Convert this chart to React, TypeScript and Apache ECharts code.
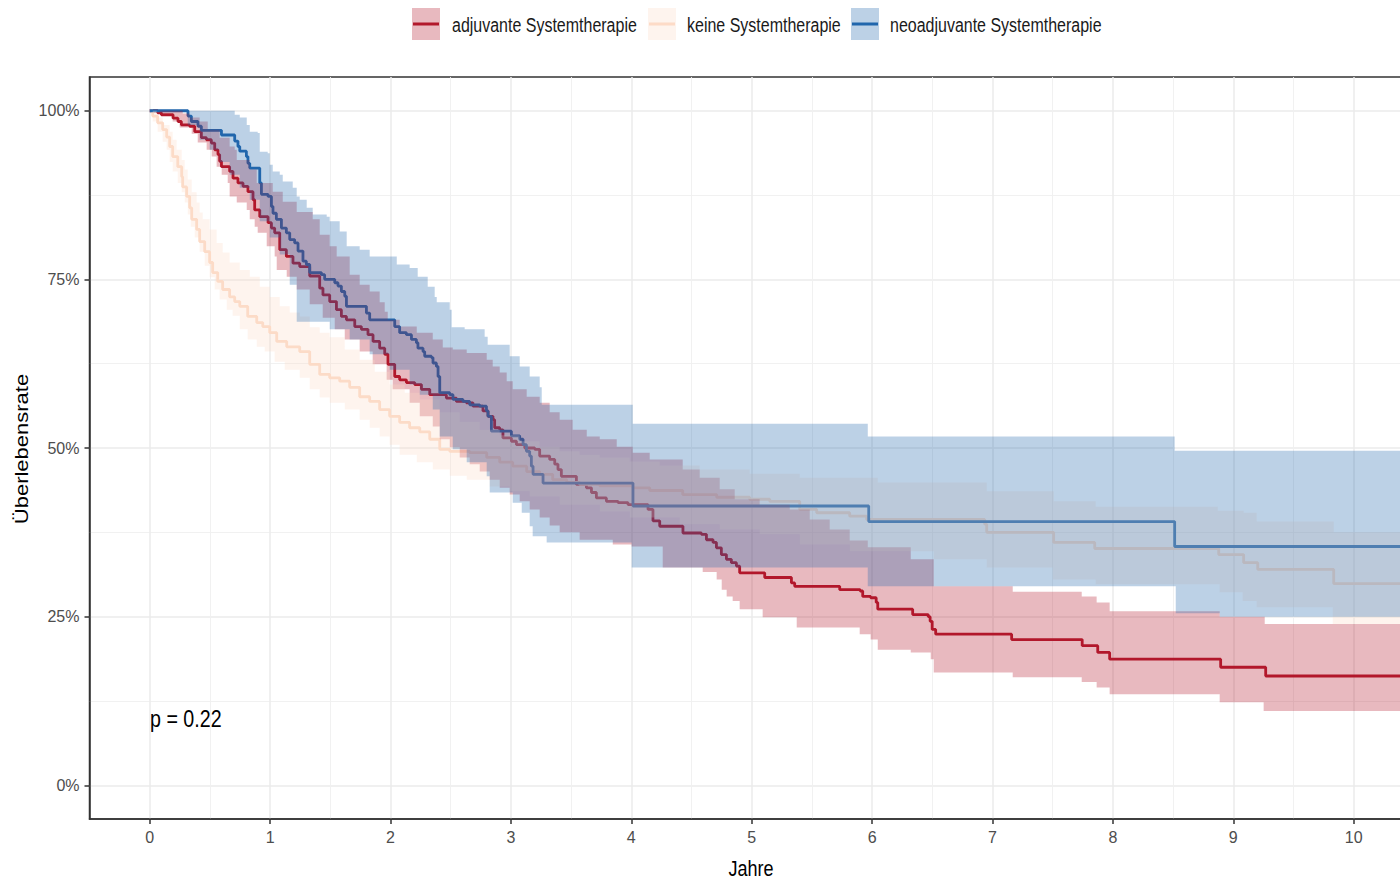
import React, { useEffect, useRef } from "react";
import * as echarts from "echarts";

type Pt = [number, number];

const X_MIN = -0.5;
const X_END = 10.5;
const Y_MIN = -0.05;
const Y_MAX = 1.05;

const xTicks = [0, 1, 2, 3, 4, 5, 6, 7, 8, 9, 10];
const yTicks = [0, 0.25, 0.5, 0.75, 1];
const legendLabels = [
  "adjuvante Systemtherapie",
  "keine Systemtherapie",
  "neoadjuvante Systemtherapie",
];
const seriesColors = ["#B2182B", "#FDDBC7", "#2166AC"];
const xTitle = "Jahre";
const yTitle = "Überlebensrate";
const pValueText = "p = 0.22";

// adjuvante Systemtherapie
const adjLine: Pt[] = [
  [0, 1.0], [0.066, 0.997], [0.097, 0.994], [0.194, 0.989], [0.235, 0.984], [0.263, 0.979],
  [0.332, 0.977], [0.374, 0.969], [0.429, 0.96], [0.471, 0.957], [0.512, 0.952], [0.54, 0.942],
  [0.567, 0.935], [0.581, 0.925], [0.596, 0.917], [0.664, 0.91], [0.692, 0.9], [0.733, 0.893],
  [0.775, 0.888], [0.816, 0.88], [0.858, 0.868], [0.872, 0.853], [0.914, 0.843], [0.983, 0.834],
  [1.011, 0.826], [1.038, 0.819], [1.08, 0.794], [1.135, 0.784], [1.19, 0.774], [1.246, 0.769],
  [1.329, 0.755], [1.412, 0.737], [1.439, 0.727], [1.495, 0.717], [1.551, 0.705], [1.592, 0.695],
  [1.634, 0.69], [1.703, 0.68], [1.758, 0.676], [1.813, 0.668], [1.855, 0.658], [1.91, 0.648],
  [1.952, 0.639], [1.979, 0.624], [2.035, 0.606], [2.076, 0.601], [2.132, 0.597], [2.201, 0.594],
  [2.257, 0.587], [2.326, 0.579], [2.464, 0.574], [2.547, 0.569], [2.63, 0.567], [2.685, 0.562],
  [2.768, 0.555], [2.81, 0.547], [2.851, 0.542], [2.865, 0.53], [2.907, 0.527], [2.934, 0.515],
  [3.004, 0.51], [3.046, 0.505], [3.115, 0.5], [3.198, 0.498], [3.239, 0.488], [3.322, 0.483],
  [3.364, 0.476], [3.391, 0.468], [3.419, 0.458], [3.544, 0.446], [3.627, 0.441], [3.669, 0.434],
  [3.71, 0.426], [3.793, 0.421], [3.89, 0.419], [3.973, 0.416], [4.139, 0.409], [4.18, 0.392],
  [4.236, 0.384], [4.429, 0.374], [4.582, 0.372], [4.624, 0.364], [4.679, 0.36], [4.707, 0.352],
  [4.748, 0.342], [4.79, 0.335], [4.831, 0.33], [4.873, 0.325], [4.9, 0.315], [5.108, 0.308],
  [5.33, 0.3], [5.357, 0.295], [5.731, 0.29], [5.901, 0.288], [5.922, 0.28], [5.988, 0.278],
  [6.034, 0.271], [6.047, 0.261], [6.337, 0.253], [6.466, 0.25], [6.482, 0.243], [6.499, 0.231],
  [6.528, 0.224], [7.159, 0.216], [7.745, 0.207], [7.874, 0.197], [7.973, 0.187], [8.895, 0.175],
  [9.269, 0.162],
];
const adjUpper: Pt[] = [
  [0, 1.0], [0.274, 0.996], [0.332, 0.99], [0.415, 0.984], [0.482, 0.972], [0.581, 0.96],
  [0.664, 0.947], [0.706, 0.942], [0.723, 0.927], [0.831, 0.913], [0.889, 0.893], [1.022, 0.88],
  [1.105, 0.865], [1.221, 0.85], [1.354, 0.839], [1.412, 0.816], [1.495, 0.799], [1.553, 0.784],
  [1.661, 0.757], [1.744, 0.742], [1.827, 0.732], [1.91, 0.716], [1.952, 0.702], [1.977, 0.69],
  [2.076, 0.68], [2.218, 0.671], [2.351, 0.661], [2.434, 0.649], [2.517, 0.646], [2.633, 0.641],
  [2.799, 0.631], [2.849, 0.621], [2.907, 0.612], [2.965, 0.599], [3.015, 0.587], [3.131, 0.576],
  [3.239, 0.567], [3.322, 0.553], [3.405, 0.542], [3.513, 0.527], [3.63, 0.517], [3.738, 0.513],
  [3.879, 0.502], [4.012, 0.493], [4.153, 0.483], [4.427, 0.468], [4.568, 0.456], [4.734, 0.439],
  [4.859, 0.424], [5.066, 0.416], [5.316, 0.409], [5.482, 0.394], [5.648, 0.379], [5.814, 0.363],
  [5.964, 0.353], [6.321, 0.335], [6.512, 0.295], [7.168, 0.287], [7.741, 0.28], [7.865, 0.271],
  [7.973, 0.258], [8.887, 0.25], [9.261, 0.239],
];
const adjLower: Pt[] = [
  [0, 1.0], [0.083, 0.996], [0.191, 0.984], [0.249, 0.975], [0.349, 0.966], [0.399, 0.953],
  [0.473, 0.942], [0.515, 0.932], [0.556, 0.917], [0.598, 0.905], [0.648, 0.893], [0.664, 0.873],
  [0.723, 0.864], [0.806, 0.853], [0.831, 0.839], [0.872, 0.828], [0.897, 0.819], [0.972, 0.799],
  [1.038, 0.784], [1.055, 0.764], [1.138, 0.754], [1.221, 0.735], [1.329, 0.713], [1.437, 0.693],
  [1.537, 0.676], [1.62, 0.661], [1.744, 0.643], [1.852, 0.624], [1.968, 0.601], [2.018, 0.587],
  [2.159, 0.567], [2.243, 0.547], [2.351, 0.532], [2.409, 0.513], [2.492, 0.501], [2.575, 0.486],
  [2.658, 0.476], [2.741, 0.465], [2.824, 0.453], [2.907, 0.441], [2.99, 0.431], [3.073, 0.421],
  [3.156, 0.409], [3.239, 0.397], [3.322, 0.385], [3.405, 0.375], [3.571, 0.364], [3.846, 0.357],
  [4.003, 0.354], [4.261, 0.323], [4.593, 0.316], [4.709, 0.305], [4.751, 0.29], [4.792, 0.28],
  [4.842, 0.273], [4.9, 0.261], [5.091, 0.249], [5.374, 0.234], [5.897, 0.224], [5.988, 0.216],
  [6.047, 0.201], [6.321, 0.197], [6.487, 0.187], [6.512, 0.167], [7.168, 0.16], [7.741, 0.153],
  [7.865, 0.145], [7.973, 0.135], [8.887, 0.123], [9.252, 0.11],
];

// keine Systemtherapie
const keineLine: Pt[] = [
  [0, 1.0], [0.025, 0.992], [0.066, 0.982], [0.108, 0.972], [0.141, 0.961], [0.166, 0.947],
  [0.191, 0.932], [0.233, 0.917], [0.266, 0.902], [0.274, 0.887], [0.307, 0.873], [0.332, 0.856],
  [0.349, 0.839], [0.39, 0.824], [0.415, 0.806], [0.457, 0.791], [0.498, 0.775], [0.523, 0.76],
  [0.565, 0.747], [0.606, 0.735], [0.664, 0.724], [0.706, 0.717], [0.748, 0.71], [0.814, 0.695],
  [0.889, 0.686], [0.939, 0.68], [0.997, 0.671], [1.055, 0.658], [1.138, 0.65], [1.246, 0.643],
  [1.329, 0.624], [1.412, 0.609], [1.495, 0.604], [1.578, 0.599], [1.661, 0.59], [1.744, 0.576],
  [1.827, 0.569], [1.91, 0.557], [1.993, 0.547], [2.076, 0.538], [2.159, 0.53], [2.243, 0.524],
  [2.326, 0.513], [2.409, 0.498], [2.492, 0.495], [2.658, 0.493], [2.799, 0.486], [2.907, 0.479],
  [3.015, 0.473], [3.131, 0.465], [3.239, 0.461], [3.347, 0.453], [3.464, 0.449], [3.571, 0.446],
  [3.738, 0.444], [4.012, 0.441], [4.153, 0.437], [4.427, 0.431], [4.709, 0.427], [4.983, 0.424],
  [5.15, 0.421], [5.399, 0.409], [5.54, 0.404], [5.814, 0.399], [5.955, 0.394], [6.935, 0.387],
  [6.952, 0.375], [7.508, 0.36], [7.849, 0.351], [8.879, 0.342], [9.086, 0.33], [9.203, 0.32],
  [9.834, 0.299],
];
const keineUpper: Pt[] = [
  [0, 1.0], [0.058, 0.99], [0.108, 0.979], [0.166, 0.969], [0.191, 0.957], [0.224, 0.942],
  [0.266, 0.927], [0.291, 0.913], [0.316, 0.898], [0.349, 0.879], [0.39, 0.864], [0.415, 0.849],
  [0.44, 0.839], [0.498, 0.824], [0.556, 0.804], [0.606, 0.79], [0.664, 0.775], [0.748, 0.764],
  [0.831, 0.754], [0.914, 0.739], [0.997, 0.724], [1.08, 0.71], [1.163, 0.701], [1.246, 0.695],
  [1.329, 0.679], [1.412, 0.671], [1.495, 0.664], [1.62, 0.646], [1.744, 0.631], [1.869, 0.613],
  [1.993, 0.594], [2.118, 0.582], [2.243, 0.572], [2.409, 0.553], [2.575, 0.539], [2.741, 0.527],
  [2.907, 0.519], [3.073, 0.51], [3.239, 0.502], [3.405, 0.495], [3.571, 0.49], [3.738, 0.486],
  [3.987, 0.48], [4.236, 0.474], [4.568, 0.468], [4.983, 0.462], [5.399, 0.456], [6.047, 0.449],
  [6.952, 0.436], [7.508, 0.421], [7.857, 0.413], [8.871, 0.407], [9.086, 0.404], [9.194, 0.391],
  [9.834, 0.375],
];
const keineLower: Pt[] = [
  [0, 1.0], [0.025, 0.984], [0.066, 0.969], [0.108, 0.954], [0.141, 0.942], [0.166, 0.924],
  [0.191, 0.91], [0.233, 0.893], [0.266, 0.879], [0.291, 0.864], [0.316, 0.846], [0.341, 0.828],
  [0.374, 0.812], [0.415, 0.791], [0.457, 0.77], [0.498, 0.753], [0.54, 0.735], [0.581, 0.72],
  [0.64, 0.705], [0.689, 0.696], [0.748, 0.676], [0.814, 0.661], [0.889, 0.65], [0.955, 0.643],
  [1.038, 0.628], [1.121, 0.616], [1.246, 0.604], [1.329, 0.587], [1.412, 0.575], [1.495, 0.567],
  [1.62, 0.557], [1.744, 0.542], [1.827, 0.53], [1.91, 0.517], [1.993, 0.505], [2.076, 0.49],
  [2.218, 0.479], [2.351, 0.468], [2.492, 0.459], [2.633, 0.453], [2.824, 0.443], [2.99, 0.436],
  [3.156, 0.428], [3.405, 0.416], [3.738, 0.406], [3.987, 0.397], [4.402, 0.387], [4.734, 0.379],
  [5.066, 0.372], [5.399, 0.357], [5.814, 0.347], [6.512, 0.335], [6.952, 0.323], [7.5, 0.305],
  [7.857, 0.298], [8.887, 0.286], [9.078, 0.273], [9.194, 0.264], [9.826, 0.239],
];

// neoadjuvante Systemtherapie
const neoLine: Pt[] = [
  [0, 1.0], [0.318, 0.992], [0.346, 0.984], [0.401, 0.977], [0.429, 0.971], [0.596, 0.964],
  [0.706, 0.955], [0.733, 0.947], [0.748, 0.94], [0.803, 0.932], [0.816, 0.922], [0.831, 0.915],
  [0.914, 0.893], [0.928, 0.876], [0.983, 0.873], [1.011, 0.858], [1.024, 0.848], [1.052, 0.839],
  [1.094, 0.826], [1.135, 0.819], [1.163, 0.809], [1.204, 0.804], [1.232, 0.792], [1.273, 0.777],
  [1.301, 0.772], [1.329, 0.76], [1.426, 0.757], [1.453, 0.75], [1.537, 0.745], [1.564, 0.74],
  [1.592, 0.732], [1.62, 0.725], [1.634, 0.71], [1.8, 0.7], [1.827, 0.69], [2.035, 0.68],
  [2.076, 0.671], [2.132, 0.668], [2.174, 0.661], [2.215, 0.656], [2.228, 0.648], [2.27, 0.643],
  [2.284, 0.636], [2.34, 0.634], [2.353, 0.626], [2.381, 0.621], [2.395, 0.606], [2.409, 0.582],
  [2.492, 0.579], [2.519, 0.572], [2.602, 0.569], [2.658, 0.564], [2.741, 0.562], [2.797, 0.555],
  [2.81, 0.547], [2.838, 0.525], [3.004, 0.518], [3.073, 0.513], [3.101, 0.505], [3.129, 0.495],
  [3.156, 0.488], [3.17, 0.473], [3.184, 0.461], [3.267, 0.448], [4.014, 0.414], [5.972, 0.391],
  [8.513, 0.354],
];
const neoUpper: Pt[] = [
  [0, 1.0], [0.706, 0.994], [0.748, 0.99], [0.806, 0.979], [0.831, 0.969], [0.897, 0.967],
  [0.914, 0.939], [0.98, 0.937], [0.997, 0.92], [1.022, 0.91], [1.08, 0.905], [1.105, 0.895],
  [1.188, 0.886], [1.221, 0.873], [1.246, 0.868], [1.304, 0.856], [1.354, 0.846], [1.47, 0.843],
  [1.495, 0.836], [1.578, 0.821], [1.636, 0.799], [1.744, 0.794], [1.827, 0.784], [2.052, 0.772],
  [2.159, 0.767], [2.226, 0.754], [2.309, 0.739], [2.367, 0.724], [2.384, 0.716], [2.492, 0.705],
  [2.508, 0.679], [2.616, 0.676], [2.782, 0.665], [2.807, 0.653], [2.99, 0.636], [3.073, 0.621],
  [3.156, 0.606], [3.239, 0.59], [3.256, 0.564], [4.012, 0.536], [5.964, 0.517], [8.513, 0.496],
];
const neoLower: Pt[] = [
  [0, 1.0], [0.316, 0.979], [0.415, 0.957], [0.498, 0.942], [0.581, 0.924], [0.664, 0.905],
  [0.748, 0.886], [0.831, 0.868], [0.914, 0.836], [0.997, 0.812], [1.08, 0.787], [1.163, 0.742],
  [1.221, 0.687], [1.495, 0.676], [1.661, 0.661], [1.827, 0.639], [1.993, 0.616], [2.159, 0.594],
  [2.243, 0.579], [2.351, 0.557], [2.409, 0.517], [2.517, 0.498], [2.633, 0.479], [2.799, 0.458],
  [2.824, 0.434], [3.015, 0.419], [3.09, 0.404], [3.156, 0.384], [3.181, 0.369], [3.297, 0.36],
  [4.003, 0.323], [5.964, 0.295], [8.522, 0.255], [8.887, 0.25],
];

const FONT = "'Liberation Sans', Arial, sans-serif";
const SQUASH = 0.82;

function withEnd(arr: Pt[]): Pt[] {
  const last = arr[arr.length - 1];
  return last[0] >= X_END ? arr : [...arr, [X_END, last[1]]];
}

function stepPath(arr: Pt[]): Pt[] {
  const a = withEnd(arr);
  const out: Pt[] = [];
  for (let i = 0; i < a.length; i++) {
    if (i > 0) out.push([a[i][0], a[i - 1][1]]);
    out.push(a[i]);
  }
  return out;
}

function hexToRgba(hex: string, alpha: number): string {
  const n = parseInt(hex.slice(1), 16);
  return `rgba(${(n >> 16) & 255},${(n >> 8) & 255},${n & 255},${alpha})`;
}

function bandSeries(name: string, upper: Pt[], lower: Pt[], color: string, z: number) {
  const pts = stepPath(upper).concat(stepPath(lower).reverse());
  return {
    type: "custom",
    name,
    z,
    silent: true,
    data: [[0, 0]],
    encode: { x: 0, y: 1 },
    renderItem: (_params: any, api: any) => ({
      type: "polygon",
      shape: { points: pts.map((p) => api.coord(p)) },
      style: { fill: hexToRgba(color, 0.3) },
    }),
  };
}

function lineSeries(name: string, data: Pt[], color: string) {
  return {
    type: "line",
    name,
    step: "end",
    data: withEnd(data),
    showSymbol: false,
    symbol: "none",
    z: 2,
    lineStyle: { color, width: 2.8 },
    itemStyle: { color },
  };
}

function squashedText(text: string, x: number, y: number, size: number, align: string, fill: string) {
  return {
    type: "text",
    x,
    y,
    scaleX: SQUASH,
    style: {
      text,
      font: `${size}px ${FONT}`,
      fill,
      textAlign: align,
      textVerticalAlign: "middle",
    },
  };
}

function legendGraphic() {
  const keyX = [412, 648, 851];
  const textX = [452, 687, 890];
  const els: any[] = [];
  legendLabels.forEach((label, i) => {
    els.push({
      type: "rect",
      shape: { x: keyX[i], y: 8, width: 28, height: 32 },
      style: { fill: hexToRgba(seriesColors[i], 0.3) },
    });
    els.push({
      type: "line",
      shape: { x1: keyX[i] + 1, y1: 24, x2: keyX[i] + 27, y2: 24 },
      style: { stroke: seriesColors[i], lineWidth: 3 },
    });
    els.push(squashedText(label, textX[i], 25, 19.5, "left", "#1A1A1A"));
  });
  return els;
}

export default function App() {
  const ref = useRef<HTMLDivElement>(null);

  useEffect(() => {
    if (!ref.current) return;
    const chart = echarts.init(ref.current, null, { renderer: "svg" });
    const axisCommon = {
      type: "value",
      axisLine: { show: true, onZero: false, lineStyle: { color: "#333333", width: 1.5 } },
      axisTick: { show: true, length: 5, lineStyle: { color: "#333333", width: 1.5 } },
      splitLine: { show: true, lineStyle: { color: "#EBEBEB", width: 1.5 } },
      minorTick: { show: false, splitNumber: 2 },
      minorSplitLine: { show: true, lineStyle: { color: "#EFEFEF", width: 0.9 } },
    };
    const labelCommon = {
      color: "#4D4D4D",
      fontSize: 16,
      fontFamily: FONT,
      margin: 10,
    };
    chart.setOption({
      animation: false,
      backgroundColor: "#FFFFFF",
      grid: {
        left: 89.5,
        top: 77,
        width: 1324.4,
        height: 742,
        show: true,
        borderColor: "#333333",
        borderWidth: 1.5,
        backgroundColor: "transparent",
        containLabel: false,
      },
      xAxis: {
        ...axisCommon,
        min: X_MIN,
        max: X_END,
        splitNumber: 11,
        minInterval: 1,
        maxInterval: 1,
        axisTick: { ...axisCommon.axisTick, customValues: xTicks },
        axisLabel: {
          ...labelCommon,
          customValues: xTicks,
          formatter: (v: number) => String(Math.round(v)),
        },
      },
      yAxis: {
        ...axisCommon,
        min: Y_MIN,
        max: Y_MAX,
        splitNumber: 4,
        minInterval: 0.25,
        maxInterval: 0.25,
        axisTick: { ...axisCommon.axisTick, customValues: yTicks },
        axisLabel: {
          ...labelCommon,
          customValues: yTicks,
          formatter: (v: number) => `${Math.round(v * 100)}%`,
        },
      },
      series: [
        lineSeries(legendLabels[0], adjLine, seriesColors[0]),
        lineSeries(legendLabels[1], keineLine, seriesColors[1]),
        lineSeries(legendLabels[2], neoLine, seriesColors[2]),
        bandSeries("CI adjuvant", adjUpper, adjLower, seriesColors[0], 3),
        bandSeries("CI keine", keineUpper, keineLower, seriesColors[1], 3),
        bandSeries("CI neoadjuvant", neoUpper, neoLower, seriesColors[2], 3),
      ],
      graphic: [
        ...legendGraphic(),
        squashedText(xTitle, 751, 868, 22, "center", "#000000"),
        {
          type: "text",
          x: 22,
          y: 449,
          rotation: Math.PI / 2,
          scaleY: SQUASH,
          style: {
            text: yTitle,
            font: `22px ${FONT}`,
            fill: "#000000",
            textAlign: "center",
            textVerticalAlign: "middle",
          },
        },
        squashedText(pValueText, 150, 719, 24, "left", "#000000"),
      ],
    });
    return () => chart.dispose();
  }, []);

  return (
    <div
      style={{
        position: "fixed",
        left: 0,
        top: 0,
        width: 1400,
        height: 879,
        overflow: "hidden",
        background: "#FFFFFF",
      }}
    >
      <div ref={ref} style={{ width: 1440, height: 879 }} />
    </div>
  );
}
